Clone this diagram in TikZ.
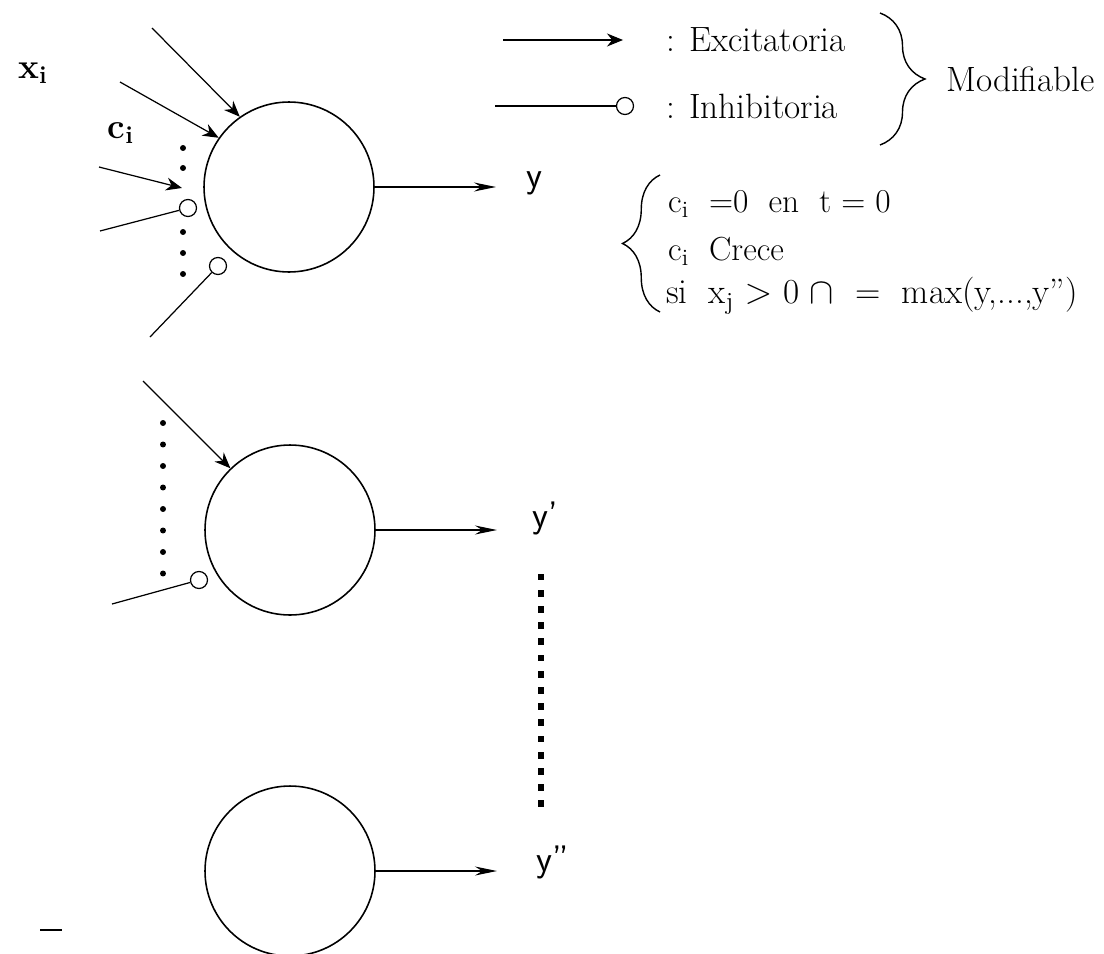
\documentclass[tikz,border=0pt]{standalone}
\usepackage{fontspec}
\usetikzlibrary{arrows.meta,decorations.pathreplacing}

\begin{document}
\begin{tikzpicture}[x=0.02cm, y=-0.02cm,
  >=Stealth, font=\fontsize{18}{21}\selectfont,
  neuron/.style={draw=black, circle, line width=0.9pt, minimum size=3.4cm, inner sep=0pt},
  inh/.style={draw=black, circle, line width=0.7pt, minimum size=0.34cm, inner sep=0pt, fill=white},
  exc/.style={-{Stealth[length=3.2mm, width=2.6mm]}, line width=0.7pt},
  outarrow/.style={-{Stealth[length=4.4mm, width=1.8mm]}, line width=0.8pt},
  syn/.style={line width=0.7pt},
  dotmark/.style={circle, fill=black, inner sep=0pt, minimum size=3.4pt},
  sqmark/.style={rectangle, fill=black, inner sep=0pt, minimum size=3.8pt},
  lbl/.style={font=\fontsize{20}{23}\selectfont, anchor=west},
  rule/.style={font=\fontsize{19}{22}\selectfont, anchor=west},
  outlbl/.style={font=\sffamily\fontsize{21}{24}\selectfont, anchor=west},
  var/.style={font=\bfseries\fontsize{20}{23}\selectfont},
  bracestyle/.style={decorate, line width=0.8pt},
]
\useasboundingbox (0,0) rectangle (1104,953);

% ======================= Neurons =======================
\node[neuron] (n1) at (289,187) {};
\node[neuron] (n2) at (290,530) {};
\node[neuron] (n3) at (290,871) {};

\node[var] (xi) at (33,73) {x\textsubscript{i}};
\node[var] (ci) at (121,133) {c\textsubscript{i}};

% ======================= Inputs, neuron 1 ==============
\coordinate (a1) at (152,28);
\coordinate (a2) at (120,82);
\coordinate (a3) at (99,167);
\coordinate (t3) at (182,188);
\coordinate (b1) at (100,231);
\coordinate (b2) at (150,337);
\node[inh] (h1) at (188,208) {};
\node[inh] (h2) at (218,266) {};
\draw[exc] (a1) -- (n1.125);
\draw[exc] (a2) -- (n1.145);
\draw[exc] (a3) -- (t3);
\draw[syn] (b1) -- (h1);
\draw[syn] (b2) -- (h2);
\foreach \y in {148,168,232,253,274}
  \node[dotmark] (p\y) at (183,\y) {};

% ======================= Inputs, neuron 2 ==============
\coordinate (a4) at (143,381);
\coordinate (b3) at (112,604);
\node[inh] (h3) at (199,580) {};
\draw[exc] (a4) -- (n2.134);
\draw[syn] (b3) -- (h3);
\foreach \k in {0,...,7}
  \node[dotmark] (q\k) at (163,423+21.5*\k) {};

% stray mark, lower left
\coordinate (m1) at (40,930);
\coordinate (m2) at (62,930);
\draw[syn] (m1) -- (m2);

% ======================= Outputs =======================
\coordinate (e1) at (496,187);
\coordinate (e2) at (497,530);
\coordinate (e3) at (497,871);
\draw[outarrow] (n1) -- (e1);
\draw[outarrow] (n2) -- (e2);
\draw[outarrow] (n3) -- (e3);
\node[outlbl] (y1) at (520,183) {y};
\node[outlbl] (y2) at (526,518) {y'};
\node[outlbl] (y3) at (530,862) {y''};
\foreach \k in {0,...,14}
  \node[sqmark] (v\k) at (541,577+16.2*\k) {};

% ======================= Legend ========================
\coordinate (le1) at (503,40);
\coordinate (le2) at (623,40);
\draw[exc] (le1) -- (le2);
\node[lbl] (excl) at (660,40) {: Excitatoria};
\coordinate (li1) at (495,106);
\node[inh] (li2) at (625,106) {};
\draw[syn] (li1) -- (li2);
\node[lbl] (inhl) at (660,106) {: Inhibitoria};
\draw[bracestyle, decoration={brace, amplitude=0.9cm}] (880,13) -- (880,145);
\node[lbl] (modif) at (940,79) {Modifiable};

% ======================= Learning rule =================
\draw[bracestyle, decoration={brace, amplitude=0.75cm, aspect=0.5}] (660,312) -- (660,175);
\node[rule] (r1) at (662,204) {c\textsubscript{i} \ =0 \ en \ t = 0};
\node[rule] (r2) at (662,251) {c\textsubscript{i} \ Crece};
\node[rule, font=\fontsize{20}{23}\selectfont] (r3) at (660,296) {si \ x\textsubscript{j} $>$ 0 $\cap$ \ = \ max(y,...,y'')};

\end{tikzpicture}
\end{document}
